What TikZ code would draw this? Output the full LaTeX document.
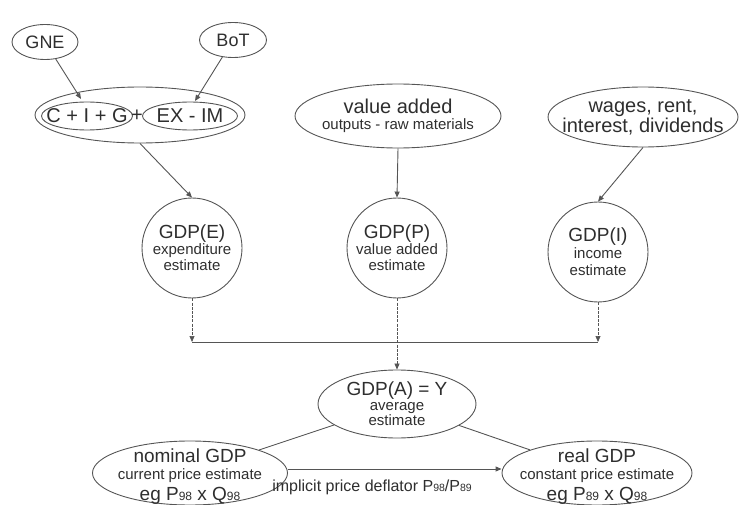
\documentclass[tikz,border=0pt]{standalone}
\usepackage{fontspec}
\setmainfont{Liberation Sans}
\usetikzlibrary{shapes.geometric,arrows.meta}
\definecolor{ink}{HTML}{2E2E2E}
\definecolor{wire}{HTML}{555555}
\newcommand\lrg{\fontsize{19}{19}\selectfont}
\newcommand\hug{\fontsize{20}{20}\selectfont}
\newcommand\sml{\fontsize{15}{15}\selectfont}
\newcommand\dg[1]{{\fontsize{12}{12}\selectfont #1}}
\newcommand\dgs[1]{{\fontsize{10.5}{10.5}\selectfont #1}}
\begin{document}
\begin{tikzpicture}[x=1pt,y=-1pt,
  bub/.style={ellipse,draw=wire,line width=0.9pt,inner sep=0pt},
  disc/.style={circle,draw=wire,line width=0.9pt,inner sep=0pt,minimum size=100pt},
  txt/.style={text=ink,align=center,inner sep=0pt},
  link/.style={draw=wire,line width=0.9pt},
  arr/.style={link,-{Triangle[length=6pt,width=5pt]}},
  feed/.style={arr,line width=0.7pt,dash pattern=on 3pt off 1.2pt}
]
\useasboundingbox (0,0) rectangle (739,505);

% top row: sources of the expenditure side
\node[bub,minimum width=66pt,minimum height=35pt,
  label={[txt,font=\fontsize{18}{18}\selectfont]center:GNE}] (gne) at (45,42) {};
\node[bub,minimum width=67pt,minimum height=35pt,
  label={[txt,font=\fontsize{18}{18}\selectfont]center:BoT}] (bot) at (233,40) {};

% C + I + G + (EX - IM)
\node[bub,minimum width=210pt,minimum height=56pt] (outer) at (140,115) {};
\node[bub,minimum width=91pt,minimum height=28pt,
  label={[txt,font=\hug]center:C + I + G}] (cig) at (87,116) {};
\node[txt,font=\hug] (plus) at (137,116) {+};
\node[bub,minimum width=95pt,minimum height=28pt,
  label={[txt,font=\hug]center:EX - IM}] (exim) at (190,116) {};

% production and income sources
\node[bub,minimum width=206pt,minimum height=64pt,
  label={[txt,font=\fontsize{15}{16}\selectfont]center:{\hug value added\\\sml outputs - raw materials}}] (va) at (398,116) {};
\node[bub,minimum width=190pt,minimum height=60pt,
  label={[txt,font=\fontsize{20}{18}\selectfont]center:{wages, rent,\\interest, dividends}}] (wages) at (643,117) {};

% the three estimates
\node[disc,label={[txt,font=\fontsize{15}{16}\selectfont]center:{\lrg GDP(E)\\\sml expenditure\\\sml estimate}}] (gdpe) at (192,248) {};
\node[disc,label={[txt,font=\fontsize{15}{16}\selectfont]center:{\lrg GDP(P)\\\sml value added\\\sml estimate}}] (gdpp) at (397,248) {};
\node[disc,label={[txt,font=\fontsize{15}{17}\selectfont]center:{\lrg GDP(I)\\\sml income\\\sml estimate}}] (gdpi) at (598,252) {};

% average, nominal and real
\node[bub,minimum width=158pt,minimum height=68pt,
  label={[txt,font=\fontsize{15}{15}\selectfont]center:{\lrg GDP(A) = Y\\\sml average\\\sml estimate}}] (gdpa) at (397,404) {};
\node[bub,minimum width=195pt,minimum height=64pt,
  label={[txt,font=\fontsize{15}{17}\selectfont,yshift=-4pt]center:{\lrg nominal GDP\\\sml current price estimate\\[4pt]\lrg eg P\dg{98} x Q\dg{98}}}] (nominal) at (190,473) {};
\node[bub,minimum width=190pt,minimum height=64pt,
  label={[txt,font=\fontsize{15}{17}\selectfont,yshift=-4pt]center:{\lrg real GDP\\\sml constant price estimate\\[4pt]\lrg eg P\dg{89} x Q\dg{98}}}] (real) at (597,473) {};

% connectors
\coordinate (cigtop) at (81,99);
\coordinate (eximtop) at (195,101);
\coordinate (je) at (192,342);
\coordinate (ji) at (598,342);

\draw[arr] (gne) -- (cigtop);
\draw[arr] (bot) -- (eximtop);
\draw[arr] (outer.south) -- (gdpe.north);
\draw[arr] (va.south) -- (gdpp.north);
\draw[arr] (wages.south) -- (gdpi.north);

\draw[feed] (gdpe.south) -- (je);
\draw[feed] (gdpi.south) -- (ji);
\draw[link] (je) -- (ji);
\draw[feed] (gdpp.south) -- (gdpa.north);

\draw[link] (gdpa) -- (nominal);
\draw[link] (gdpa) -- (real);
\draw[arr] ([yshift=4pt]nominal.east) -- node[txt,pos=0.45,below=10pt,xshift=-12pt,font=\fontsize{16}{16}\selectfont] (defl)
  {implicit price deflator P\dgs{98}/P\dgs{89}} ([yshift=4pt]real.west);
\end{tikzpicture}
\end{document}
